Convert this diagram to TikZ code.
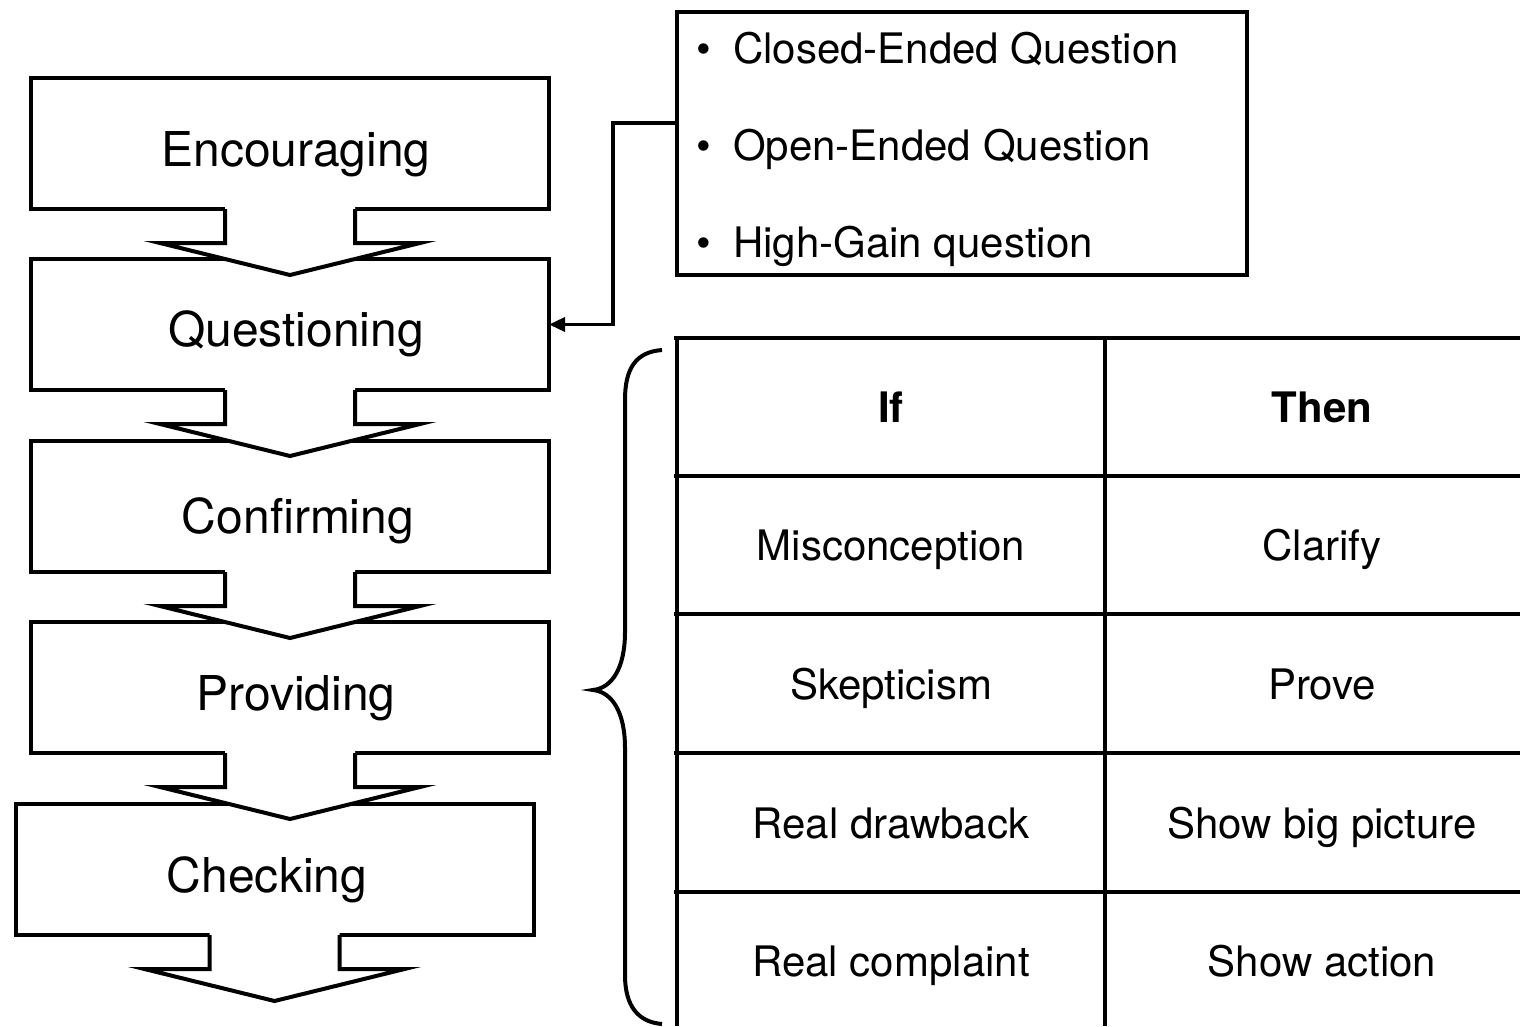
\documentclass[tikz,border=0pt]{standalone}
\usepackage{fontspec}
\setmainfont{TeX Gyre Heros}
\usetikzlibrary{arrows.meta}
\begin{document}
\begin{tikzpicture}[x=1pt,y=-1pt,
  stagebox/.style={draw, line width=4pt, fill=white, minimum width=518pt, minimum height=131pt, inner sep=0pt, outer sep=0pt},
  stagetext/.style={anchor=base, font=\fontsize{48}{50}\selectfont, inner sep=0pt},
  listtext/.style={anchor=base west, font=\fontsize{42}{46}\selectfont, inner sep=0pt},
  bul/.style={anchor=base, font=\fontsize{42}{46}\selectfont, inner sep=0pt},
  celltext/.style={anchor=base, font=\fontsize{42}{46}\selectfont, inner sep=0pt},
  headtext/.style={anchor=base, font=\fontsize{42}{46}\selectfont\bfseries, inner sep=0pt},
  tblline/.style={line width=3.5pt},
  downarrow/.pic={
    \fill[white] (-65,-4) -- (-65,34) -- (-130,34) -- (0,66) -- (130,34) -- (65,34) -- (65,-4) -- cycle;
    \draw[line width=4pt, line join=miter] (-65,0) -- (-65,34) -- (-130,34) -- (0,66) -- (130,34) -- (65,34) -- (65,0);
  }]
\useasboundingbox (0,0) rectangle (1520,1026);

% stage boxes
\node[stagebox] (enc) at (290,143.5) {};
\node[stagebox] (que) at (290,324.5) {};
\node[stagebox] (con) at (290,506.5) {};
\node[stagebox] (pro) at (290,687.5) {};
\node[stagebox] (che) at (274.5,869.5) {};

% arrows between stages
\pic at (enc.south) {downarrow};
\pic at (que.south) {downarrow};
\pic at (con.south) {downarrow};
\pic at (pro.south) {downarrow};
\pic at (che.south) {downarrow};

\node[stagetext] (tenc) at (296,166) {Encouraging};
\node[stagetext] (tque) at (296,346) {Questioning};
\node[stagetext] (tcon) at (298,533) {Confirming};
\node[stagetext] (tpro) at (296,710) {Providing};
\node[stagetext] (tche) at (267,892) {Checking};

% question types box
\node[draw, line width=4pt, minimum width=570pt, minimum height=263pt, inner sep=0pt, outer sep=0pt] (qbox) at (962,143.5) {};
\node[bul] (b1) at (704,63) {\textbullet};
\node[bul] (b2) at (704,160) {\textbullet};
\node[bul] (b3) at (704,257) {\textbullet};
\node[listtext] (l1) at (733,63) {Closed-Ended Question};
\node[listtext] (l2) at (733,160) {Open-Ended Question};
\node[listtext] (l3) at (733,257) {High-Gain question};

\coordinate (bend) at (613,123);
\draw[line width=3.5pt, -{Triangle[length=16pt,width=14pt]}] (qbox.west |- bend) -- (bend) |- (que.east);

% brace
\draw[line width=4pt] (662,350) .. controls (636,352) and (625,368) .. (625,400) -- (625,632)
  .. controls (625,668) and (612,688) .. (593,690)
  .. controls (612,692) and (625,712) .. (625,748) -- (625,975)
  .. controls (625,1006) and (638,1022) .. (662,1024);

% table
\draw[line width=4.5pt] (674,338) -- (1520,338);
\draw[line width=4.5pt] (677,336) -- (677,1026);
\draw[tblline] (1105,336) -- (1105,1026);
\foreach \yy in {476,614,753,892} { \draw[tblline] (674,\yy) -- (1520,\yy); }

\node[headtext] (hif) at (891,422) {If};
\node[headtext] (hthen) at (1322,422) {Then};
\node[celltext] (c11) at (891,560) {Misconception};
\node[celltext] (c12) at (1322,560) {Clarify};
\node[celltext] (c21) at (891,699) {Skepticism};
\node[celltext] (c22) at (1322,699) {Prove};
\node[celltext] (c31) at (891,838) {Real drawback};
\node[celltext] (c32) at (1322,838) {Show big picture};
\node[celltext] (c41) at (891,976) {Real complaint};
\node[celltext] (c42) at (1322,976) {Show action};
\end{tikzpicture}
\end{document}
